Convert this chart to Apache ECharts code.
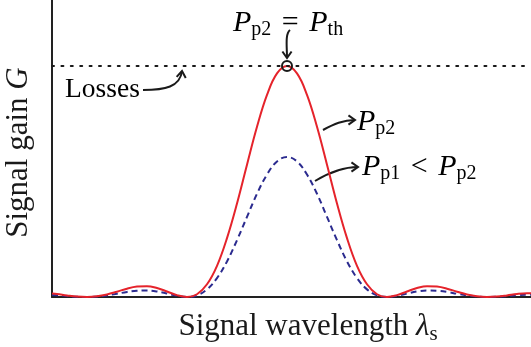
<!DOCTYPE html>
<html>
<head>
<meta charset="utf-8">
<script src="https://cdn.jsdelivr.net/npm/echarts@6/dist/echarts.min.js"></script>
<style>
  html, body { margin: 0; padding: 0; background: #fff; }
  #chart { width: 531px; height: 347px; }
</style>
</head>
<body>
<div id="chart"></div>
<script>
// Detuning from the gain centre, in units of the first-null spacing
const wavelength = [-2.35, -2.3, -2.2, -2.1, -2.0, -1.9, -1.8, -1.7, -1.6, -1.5, -1.4, -1.3, -1.2, -1.1, -1.0,
  -0.9, -0.8, -0.7, -0.6, -0.5, -0.4, -0.3, -0.2, -0.1, 0, 0.1, 0.2, 0.3, 0.4, 0.5, 0.6, 0.7, 0.8, 0.9,
  1.0, 1.1, 1.2, 1.3, 1.4, 1.5, 1.6, 1.7, 1.8, 1.9, 2.0, 2.1, 2.2, 2.3, 2.4, 2.44];

// Gain at pump power Pp2 (reaches the loss level at the centre)
const gainPp2 = [0.015, 0.013, 0.007, 0.002, 0, 0.003, 0.011, 0.023, 0.036, 0.045, 0.047, 0.039, 0.024, 0.008, 0,
  0.012, 0.055, 0.135, 0.255, 0.405, 0.573, 0.737, 0.875, 0.968, 1.0, 0.968, 0.875, 0.737, 0.573, 0.405, 0.255, 0.135, 0.055, 0.012,
  0, 0.008, 0.024, 0.039, 0.047, 0.045, 0.036, 0.023, 0.011, 0.003, 0, 0.002, 0.007, 0.013, 0.016, 0.016];

// Gain at the lower pump power Pp1
const gainPp1 = [0.009, 0.008, 0.004, 0.001, 0, 0.002, 0.007, 0.014, 0.022, 0.027, 0.028, 0.024, 0.015, 0.005, 0,
  0.007, 0.033, 0.082, 0.154, 0.246, 0.347, 0.447, 0.530, 0.587, 0.606, 0.587, 0.530, 0.447, 0.347, 0.246, 0.154, 0.082, 0.033, 0.007,
  0, 0.005, 0.015, 0.024, 0.028, 0.027, 0.022, 0.014, 0.007, 0.002, 0, 0.001, 0.004, 0.008, 0.010, 0.010];

// Cavity loss level and the threshold point on it
const lossLevel = 1;
const thresholdPoint = [0, 1];

const xRange = [-2.35, 2.44];
const yRange = [0, 1.286];

const SERIF = 'Liberation Serif';
const INK = '#1a1a1a';

const pairs = (xs, ys) => xs.map((x, i) => [x, ys[i]]);

// Rich-text styles for math-like labels: italic symbols, upright text, lowered subscripts
const mathRich = {
  i: { fontFamily: SERIF, fontStyle: 'italic', fontSize: 30, lineHeight: 34, color: INK },
  r: { fontFamily: SERIF, fontSize: 30, lineHeight: 34, color: INK },
  rel: { fontFamily: SERIF, fontSize: 30, lineHeight: 34, color: INK, padding: [0, 3, 0, 3] },
  s: { fontFamily: SERIF, fontSize: 20, lineHeight: 18, color: INK, verticalAlign: 'bottom' },
  l: { fontFamily: SERIF, fontSize: 27.5, lineHeight: 34, color: INK }
};
const axisRich = {
  i: { fontFamily: SERIF, fontStyle: 'italic', fontSize: 31, lineHeight: 36, color: INK },
  r: { fontFamily: SERIF, fontSize: 31, lineHeight: 36, color: INK },
  s: { fontFamily: SERIF, fontSize: 21, lineHeight: 19, color: INK, verticalAlign: 'bottom' }
};

const chart = echarts.init(document.getElementById('chart'), null, { renderer: 'canvas' });

chart.setOption({
  animation: false,
  backgroundColor: '#fff',
  grid: { left: 52, right: 0, top: 0, bottom: 50, outerBoundsMode: 'none', containLabel: false },
  xAxis: {
    type: 'value', min: xRange[0], max: xRange[1],
    axisLine: { show: true, onZero: false, lineStyle: { color: '#222', width: 2 } },
    axisTick: { show: false }, axisLabel: { show: false }, splitLine: { show: false },
    name: '{r|Signal wavelength }{i|λ}{s|s}',
    nameLocation: 'middle', nameGap: 12,
    nameTextStyle: { rich: axisRich, padding: [0, 0, 0, 33] }
  },
  yAxis: {
    type: 'value', min: yRange[0], max: yRange[1],
    axisLine: { show: true, onZero: false, lineStyle: { color: '#222', width: 2 } },
    axisTick: { show: false }, axisLabel: { show: false }, splitLine: { show: false },
    name: '{r|Signal gain }{i|G}',
    nameLocation: 'middle', nameGap: 15, nameRotate: 90,
    nameTextStyle: { rich: axisRich, padding: [0, 8, 0, 0] }
  },
  series: [
    {
      type: 'line', name: 'Pp1', data: pairs(wavelength, gainPp1),
      smooth: 0.4, showSymbol: false, silent: true,
      lineStyle: { color: '#2b2b8f', width: 2, type: [6, 4] }
    },
    {
      type: 'line', name: 'Pp2', data: pairs(wavelength, gainPp2),
      smooth: 0.4, showSymbol: false, silent: true,
      lineStyle: { color: '#e5232b', width: 2 },
      markLine: {
        silent: true, symbol: 'none', label: { show: false },
        lineStyle: { color: INK, width: 2, type: [2, 7.4], cap: 'round' },
        data: [{ yAxis: lossLevel }]
      },
      markPoint: {
        silent: true, symbol: 'circle', symbolSize: 10, label: { show: false },
        itemStyle: { color: 'rgba(255,255,255,0)', borderColor: INK, borderWidth: 2 },
        data: [{ coord: thresholdPoint }]
      }
    }
  ]
});

// Annotation arrows: cubic curve with an open chevron head
function arrow(p0, c1, c2, p1) {
  const dx = p1[0] - c2[0], dy = p1[1] - c2[1];
  const len = Math.hypot(dx, dy) || 1;
  const ux = dx / len, uy = dy / len;
  const L = 8, a = 35 * Math.PI / 180;
  const rot = (t) => [ux * Math.cos(t) - uy * Math.sin(t), ux * Math.sin(t) + uy * Math.cos(t)];
  const r1 = rot(a), r2 = rot(-a);
  return [
    { type: 'bezierCurve', silent: true,
      shape: { x1: p0[0], y1: p0[1], cpx1: c1[0], cpy1: c1[1], cpx2: c2[0], cpy2: c2[1], x2: p1[0], y2: p1[1] },
      style: { stroke: INK, lineWidth: 2, fill: null } },
    { type: 'polyline', silent: true,
      shape: { points: [[p1[0] - L * r1[0], p1[1] - L * r1[1]], p1, [p1[0] - L * r2[0], p1[1] - L * r2[1]]] },
      style: { stroke: INK, lineWidth: 2, fill: null, lineJoin: 'miter' } }
  ];
}

function mathText(x, bottom, text) {
  return { type: 'text', silent: true, x: x, y: bottom,
    style: { text: text, rich: mathRich, align: 'left', verticalAlign: 'bottom' } };
}

const peak = chart.convertToPixel({ gridIndex: 0 }, thresholdPoint);

chart.setOption({
  graphic: [
    mathText(peak[0] - 54, 40, '{i|P}{s|p2}{rel| = }{i|P}{s|th}'),
    ...arrow([peak[0] + 3, peak[1] - 36], [peak[0] - 2, peak[1] - 32], [peak[0], peak[1] - 20], [peak[0], peak[1] - 8]),
    mathText(65, 107, '{l|Losses}'),
    ...arrow([143, 90], [165, 90], [180, 87], [182, 71]),
    mathText(357, 139, '{i|P}{s|p2}'),
    ...arrow([323, 130], [334, 124], [343, 120], [355, 120]),
    mathText(362, 184, '{i|P}{s|p1}{rel| < }{i|P}{s|p2}'),
    ...arrow([315, 181], [330, 172], [345, 167], [358, 167])
  ]
});
</script>
</body>
</html>
